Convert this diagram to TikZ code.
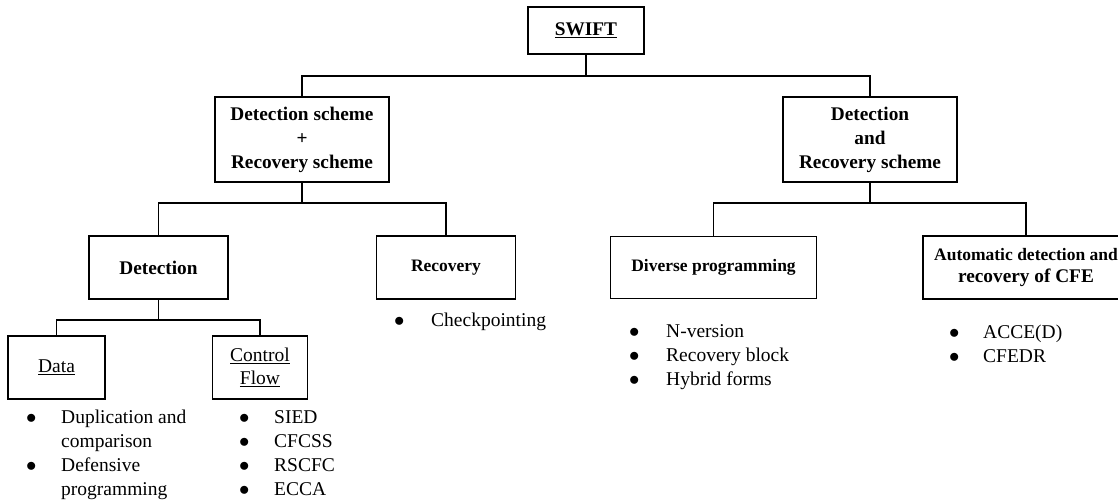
\documentclass[tikz,border=0pt]{standalone}
\usepackage{fontspec}
\setmainfont{Liberation Serif}
\newcommand\bl{\makebox[34pt][l]{$\bullet$}}
\newcommand\blw[1]{\makebox[#1][l]{$\bullet$}}
\newcommand\ind{\hspace*{34pt}}
\begin{document}
\begin{tikzpicture}[x=1pt,y=-1pt,
  box/.style={draw, line width=1.4pt, inner sep=0pt, align=center,
    font=\fontsize{19.3}{24}\selectfont\bfseries},
  sbox/.style={box, font=\fontsize{17.5}{22}\selectfont\bfseries},
  pbox/.style={box, font=\fontsize{19.5}{23}\selectfont},
  list/.style={inner sep=0pt, anchor=base west, font=\fontsize{19.5}{24}\selectfont},
  conn/.style={line width=1.4pt}]
\useasboundingbox (0,0) rectangle (1118,500);
\clip (0,0) rectangle (1118,500);

\node[box, minimum width=116pt, minimum height=47pt] (swift) at (586,30.5) {\underline{SWIFT}};
\node[box, minimum width=174pt, minimum height=85pt] (drA) at (302,139.5) {Detection scheme\\+\\Recovery scheme};
\node[box, minimum width=174pt, minimum height=85pt] (drB) at (870,139.5) {Detection\\and\\Recovery scheme};
\node[box, minimum width=139pt, minimum height=63pt] (det) at (158.5,267.5) {Detection};
\node[sbox, minimum width=139pt, minimum height=63pt] (rec) at (446,267.5) {Recovery};
\node[sbox, minimum width=206pt, minimum height=62pt] (div) at (713.5,267.5) {Diverse programming};
\node[sbox, minimum width=206pt, minimum height=63pt] (aut) at (1026,267.5) {{\fontsize{17.5}{22}\selectfont Automatic detection and}\\{\fontsize{19.3}{22}\selectfont recovery of CFE}};
\node[pbox, minimum width=97pt, minimum height=63pt] (data) at (56.5,367.5) {\underline{Data}};
\node[pbox, minimum width=95pt, minimum height=63pt] (cf) at (260,367.5) {\underline{Control}\\\underline{Flow}};

\draw[conn] (swift.south) -- (swift.south |- 0,76) -| (drA.north);
\draw[conn] (swift.south) -- (swift.south |- 0,76) -| (drB.north);
\draw[conn] (drA.south) -- (drA.south |- 0,203) -| (det.north);
\draw[conn] (drA.south) -- (drA.south |- 0,203) -| (rec.north);
\draw[conn] (drB.south) -- (drB.south |- 0,203) -| (div.north);
\draw[conn] (drB.south) -- (drB.south |- 0,203) -| (aut.north);
\draw[conn] (det.south) -- (det.south |- 0,320) -| (data.north);
\draw[conn] (det.south) -- (det.south |- 0,320) -| (cf.north);

\node[list] (ldata) at (26,423) {\begin{tabular}[t]{@{}l@{}}\blw{35pt}Duplication and\\\hspace*{35pt}comparison\\\blw{35pt}Defensive\\\hspace*{35pt}programming\end{tabular}};
\node[list] (lcf) at (239,423.5) {\begin{tabular}[t]{@{}l@{}}\blw{35pt}SIED\\\blw{35pt}CFCSS\\\blw{35pt}RSCFC\\\blw{35pt}ECCA\end{tabular}};
\node[list] (lrec) at (394,326) {\begin{tabular}[t]{@{}l@{}}\blw{37pt}Checkpointing\end{tabular}};
\node[list] (ldiv) at (629,337.5) {\begin{tabular}[t]{@{}l@{}}\blw{37pt}N-version\\\blw{37pt}Recovery block\\\blw{37pt}Hybrid forms\end{tabular}};
\node[list] (laut) at (949,338) {\begin{tabular}[t]{@{}l@{}}\blw{34pt}ACCE(D)\\\blw{34pt}CFEDR\end{tabular}};
\end{tikzpicture}
\end{document}
